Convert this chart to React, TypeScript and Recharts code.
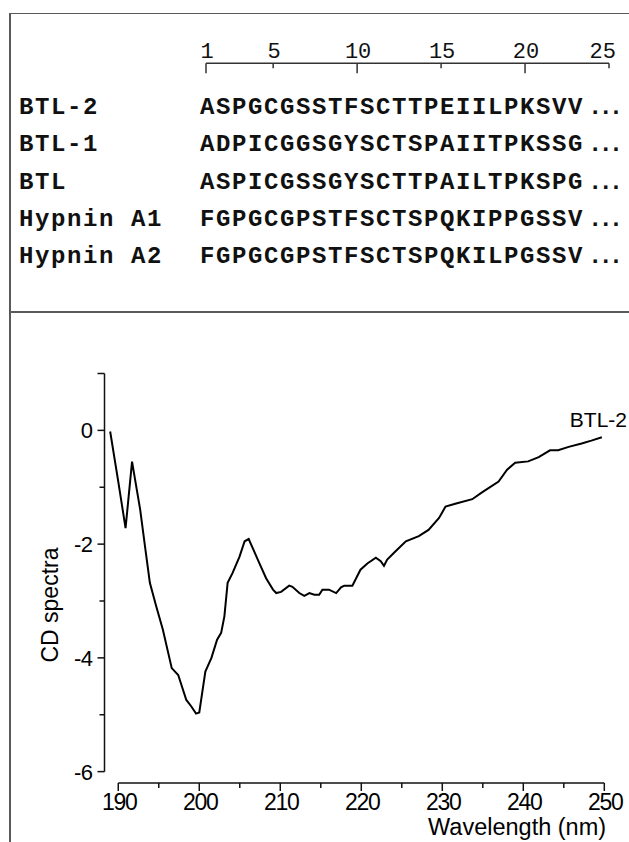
import { LineChart, Line, XAxis, YAxis, ReferenceLine, LabelList } from 'recharts';

// alignment ruler + sequences
const rulerPositions = [1, 5, 10, 15, 20, 25];
const peptideNames = ['BTL-2', 'BTL-1', 'BTL', 'Hypnin A1', 'Hypnin A2'];
const peptideSequences = [
  'ASPGCGSSTFSCTTPEIILPKSVV',
  'ADPICGGSGYSCTSPAIITPKSSG',
  'ASPICGSSGYSCTTPAILTPKSPG',
  'FGPGCGPSTFSCTSPQKIPPGSSV',
  'FGPGCGPSTFSCTSPQKILPGSSV',
];

// CD spectrum of BTL-2
const wavelength = [
  189.0, 190.0, 190.9, 191.7, 192.7, 193.3, 193.9, 194.7, 195.5, 196.6, 197.4, 198.4, 199.0, 199.6, 200.0,
  200.75, 201.5, 202.2, 202.7, 203.1, 203.5, 204.1, 204.97, 205.6, 206.1, 206.6, 207.4, 208.25, 209.1, 209.5,
  210.1, 211.1, 211.5, 212.35, 212.96, 213.6, 214.2, 214.8, 215.2, 216.0, 216.9, 217.5, 217.9, 218.9, 219.9,
  220.75, 221.8, 222.4, 222.8, 223.2, 224.2, 225.5, 227.1, 228.3, 229.6, 230.4, 231.6, 233.7, 234.9, 236.95,
  238.0, 239.0, 240.6, 241.9, 243.3, 244.3, 245.6, 247.2, 248.4, 249.7,
];
const cdValues = [
  -0.02, -0.9, -1.72, -0.55, -1.39, -2.04, -2.68, -3.1, -3.5, -4.18, -4.3, -4.74, -4.85, -4.98, -4.96,
  -4.24, -4.0, -3.68, -3.56, -3.27, -2.68, -2.51, -2.22, -1.95, -1.91, -2.07, -2.33, -2.6, -2.8, -2.86,
  -2.84, -2.73, -2.75, -2.86, -2.91, -2.86, -2.89, -2.89, -2.8, -2.8, -2.86, -2.76, -2.73, -2.73, -2.45,
  -2.34, -2.24, -2.3, -2.38, -2.27, -2.13, -1.95, -1.86, -1.75, -1.54, -1.34, -1.29, -1.21, -1.09, -0.9,
  -0.69, -0.57, -0.545, -0.47, -0.35, -0.35, -0.29, -0.23, -0.18, -0.12,
];
const xTicks = [190, 195, 200, 205, 210, 215, 220, 225, 230, 235, 240, 245, 250];
const yTicks = [-6, -5, -4, -3, -2, -1, 0, 1];
const seriesName = 'BTL-2';

const AXIS = '#111';
const SANS = '"Liberation Sans", Arial, sans-serif';
const MONO = '"Liberation Mono", "Courier New", monospace';

const rulerData = rulerPositions.map((pos) => ({ pos }));
const cdData = wavelength.map((w, i) => ({ w, cd: cdValues[i] }));

function RulerTick({ x, y, payload, index }: any) {
  const v = payload.value;
  const long = v === 1 || v % 10 === 0;
  const last = index === rulerPositions.length - 1;
  return (
    <g>
      <line x1={x} y1={y} x2={x} y2={y + (long ? 10 : 5)} stroke="#333" strokeWidth={1.5} />
      <text
        x={last ? x + 7 : x + 1}
        y={y - 5}
        textAnchor={last ? 'end' : 'middle'}
        fontFamily={MONO}
        fontSize={22}
        fill="#111"
      >
        {v}
      </text>
    </g>
  );
}

function CdTickX({ x, y, payload }: any) {
  const major = payload.value % 10 === 0;
  return (
    <g>
      <line x1={x} y1={y} x2={x} y2={y + (major ? 8 : 5)} stroke={AXIS} strokeWidth={1.5} />
      {major && (
        <text x={x + 1} y={y + 27} textAnchor="middle" fontFamily={SANS} fontSize={23} letterSpacing={-1.2} fill="#000">
          {payload.value}
        </text>
      )}
    </g>
  );
}

function CdTickY({ x, y, payload }: any) {
  const major = payload.value % 2 === 0;
  const len = major || payload.value === 1 ? 7 : 5;
  return (
    <g>
      <line x1={x - len} y1={y} x2={x} y2={y} stroke={AXIS} strokeWidth={1.5} />
      {major && (
        <text x={x - 12} y={y + 8} textAnchor="end" fontFamily={SANS} fontSize={22} letterSpacing={-0.5} fill="#000">
          {payload.value}
        </text>
      )}
    </g>
  );
}

function EndLabel(props: any) {
  const { x, y, index } = props;
  if (index !== cdData.length - 1) return null;
  return (
    <text x={x - 32} y={y - 10.5} fontFamily={SANS} fontSize={21} fill="#000">
      {seriesName}
    </text>
  );
}

const abs = (top: number, left: number) => ({ position: 'absolute' as const, top, left });

export default function App() {
  return (
    <div style={{ ...abs(0, 0), width: 629, height: 842, overflow: 'hidden', background: '#fff' }}>
      {/* frame */}
      <div style={{ ...abs(12.5, 9), width: 640, height: 1.8, background: '#5a5a5a' }} />
      <div style={{ ...abs(12.5, 9), width: 1.8, height: 840, background: '#5a5a5a' }} />
      <div style={{ ...abs(310.8, 9), width: 640, height: 1.8, background: '#5a5a5a' }} />

      {/* ruler */}
      <div style={abs(0, 0)}>
        <LineChart width={629} height={300} data={rulerData} margin={{ top: 33.3, right: 20, left: 206, bottom: 0 }}>
          <XAxis
            xAxisId={0}
            orientation="top"
            dataKey="pos"
            type="number"
            domain={[1, 25]}
            ticks={rulerPositions}
            interval={0}
            height={30}
            tickSize={0}
            tickMargin={0}
            tick={<RulerTick />}
            axisLine={{ stroke: '#333', strokeWidth: 1.5 }}
          />
          <YAxis hide />
        </LineChart>
      </div>

      {/* sequence table */}
      <svg width={629} height={312} style={abs(0, 0)}>
        {peptideNames.map((name, i) => {
          const base = 114 + i * 37.25;
          return (
            <g key={name} fontFamily={MONO} fontWeight="bold" fontSize={24} fill="#111">
              <text x={19} y={base} letterSpacing={1.6}>{name}</text>
              <text x={200} y={base} letterSpacing={1.6}>{peptideSequences[i]}</text>
              <text x={588} y={base} letterSpacing={-4}>...</text>
            </g>
          );
        })}
      </svg>

      {/* CD spectra */}
      <div style={abs(0, 0)}>
        <LineChart width={629} height={842} data={cdData} margin={{ top: 373.5, right: 24.7, left: 0, bottom: 0 }}>
          <XAxis
            dataKey="w"
            type="number"
            domain={[188.3, 250]}
            allowDataOverflow
            ticks={xTicks}
            interval={0}
            height={59}
            tickSize={0}
            tickMargin={0}
            axisLine={false}
            tick={<CdTickX />}
          />
          <YAxis
            type="number"
            domain={[-6.2, 1]}
            allowDataOverflow
            ticks={yTicks}
            interval={0}
            width={104.5}
            tickSize={0}
            tickMargin={0}
            axisLine={false}
            tick={<CdTickY />}
          />
          <ReferenceLine segment={[{ x: 188.3, y: -6 }, { x: 188.3, y: 1 }]} stroke={AXIS} strokeWidth={1.5} />
          <ReferenceLine segment={[{ x: 190, y: -6.2 }, { x: 250, y: -6.2 }]} stroke={AXIS} strokeWidth={1.5} />
          <Line
            type="linear"
            dataKey="cd"
            stroke="#000"
            strokeWidth={2}
            dot={false}
            isAnimationActive={false}
          >
            <LabelList dataKey="cd" content={<EndLabel />} />
          </Line>
        </LineChart>
      </div>

      <svg width={629} height={842} style={{ ...abs(0, 0), pointerEvents: 'none' }}>
        <text x={58} y={605} transform="rotate(-90 58 605)" textAnchor="middle" fontFamily={SANS} fontSize={23} fill="#000">
          CD spectra
        </text>
        <text x={428} y={835} fontFamily={SANS} fontSize={23.5} fill="#000">
          Wavelength (nm)
        </text>
      </svg>
    </div>
  );
}
